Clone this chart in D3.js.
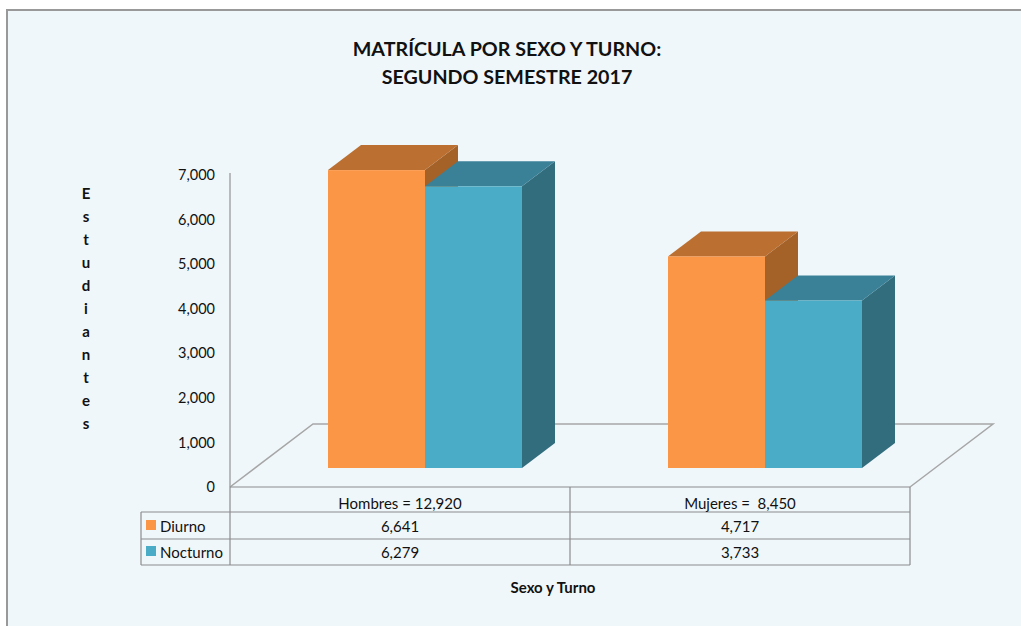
<!DOCTYPE html>
<html>
<head>
<meta charset="utf-8">
<script src="https://cdn.jsdelivr.net/npm/d3@7"></script>
<style>
html, body { margin: 0; padding: 0; background: #fff; overflow: hidden; }
text { font-family: Lato, "Open Sans", sans-serif; fill: #111; }
</style>
</head>
<body>
<svg class="chart"></svg>
<script>
const titleLines = ["MATRÍCULA POR SEXO Y TURNO:", "SEGUNDO SEMESTRE 2017"];
const yTitle = "Estudiantes";
const xTitle = "Sexo y Turno";
const categories = ["Hombres = 12,920", "Mujeres =  8,450"];
const series = ["Diurno", "Nocturno"];
const diurno = [6641, 4717];
const nocturno = [6279, 3733];
const yTicks = [0, 1000, 2000, 3000, 4000, 5000, 6000, 7000];

const canvas = {width: 1021, height: 626};
const depth = {x: 33, y: 25};
const floorY = 487;
const barLift = 19;   // the bars stand a bit behind the front edge of the floor

const colors = {
    Diurno: {front: "#fb9646", top: "#bb6f30", side: "#a46229"},
    Nocturno: {front: "#4aacc6", top: "#3a8198", side: "#326d7e"}
};

const svg = d3.select(".chart")
    .attr("width", canvas.width)
    .attr("height", canvas.height);

// chart frame
svg.append("rect")
    .attr("x", 7).attr("y", 10)
    .attr("width", 1030).attr("height", 640)
    .attr("fill", "#f0f7fa")
    .attr("stroke", "#999")
    .attr("stroke-width", 2);

svg.selectAll(".title")
    .data(titleLines)
    .enter().append("text")
    .attr("class", "title")
    .attr("x", 507)
    .attr("y", (d, i) => 56 + i * 27.5)
    .attr("text-anchor", "middle")
    .style("font-size", "19.7px")
    .style("font-weight", "bold")
    .text(d => d);

const x0 = d3.scaleBand().domain(categories).range([230, 910]);
const x1 = d3.scaleBand().domain(series).range([98, 292]);
const yScale = d3.scaleLinear().domain([0, 7000]).range([floorY, 173]);
const yLabels = d3.scaleLinear().domain([0, 7000]).range([floorY, 175]);
const yBar = v => yScale(v) - barLift;

// floor
const floor = d3.line()([
    [230, floorY],
    [230 + 83, floorY - 63],
    [993, floorY - 63],
    [910, floorY]
]);
svg.append("path")
    .attr("d", floor)
    .attr("fill", "none")
    .attr("stroke", "#a6a6a6")
    .attr("stroke-width", 1.5);

// y axis, the labels sit slightly tighter than the line
const yAxis = d3.axisLeft(yLabels)
    .tickValues(yTicks)
    .tickFormat(d3.format(","))
    .tickSize(0)
    .tickPadding(15);

const yAxisG = svg.append("g")
    .attr("transform", "translate(230,0)")
    .call(yAxis);
yAxisG.select(".domain").remove();
yAxisG.selectAll("text").style("font-size", "14.5px").attr("fill", "#111");

svg.append("line")
    .attr("x1", 230).attr("x2", 230)
    .attr("y1", yScale(0)).attr("y2", yScale(7000))
    .attr("stroke", "#a6a6a6")
    .attr("stroke-width", 1.5);

// bars, back to front so the nearer faces cover the others
const rows = [];
categories.forEach((c, i) => {
    rows.push({category: c, serie: "Diurno", value: diurno[i]});
    rows.push({category: c, serie: "Nocturno", value: nocturno[i]});
});

const bar = svg.selectAll(".bar")
    .data(rows)
    .enter().append("g")
    .attr("class", "bar");

const sideFace = function(d) {
    const l = x0(d.category) + x1(d.serie), r = l + x1.bandwidth();
    const t = yBar(d.value), b = yBar(0);
    return d3.line()([[r, t], [r + depth.x, t - depth.y], [r + depth.x, b - depth.y], [r, b]]);
};
const topFace = function(d) {
    const l = x0(d.category) + x1(d.serie), r = l + x1.bandwidth();
    const t = yBar(d.value);
    return d3.line()([[l, t], [l + depth.x, t - depth.y], [r + depth.x, t - depth.y], [r, t]]);
};

bar.append("path").attr("d", sideFace).attr("fill", d => colors[d.serie].side);
bar.append("path").attr("d", topFace).attr("fill", d => colors[d.serie].top);
bar.append("rect")
    .attr("x", d => x0(d.category) + x1(d.serie))
    .attr("y", d => yBar(d.value))
    .attr("width", x1.bandwidth())
    .attr("height", d => yBar(0) - yBar(d.value))
    .attr("fill", d => colors[d.serie].front);

// data table
const tableRows = [floorY, 512, 539, 565];
const tableLeft = 141;
const tableColor = "#8c8c8c";

svg.selectAll(".row-line")
    .data(tableRows)
    .enter().append("line")
    .attr("class", "row-line")
    .attr("x1", (d, i) => i === 0 ? 230 : tableLeft)
    .attr("x2", 910)
    .attr("y1", d => d)
    .attr("y2", d => d)
    .attr("stroke", tableColor)
    .attr("stroke-width", 1.2);

const colLines = [tableLeft, 230].concat(categories.map(c => x0(c) + x0.bandwidth()));
svg.selectAll(".col-line")
    .data(colLines)
    .enter().append("line")
    .attr("class", "col-line")
    .attr("x1", d => d)
    .attr("x2", d => d)
    .attr("y1", d => d === tableLeft ? 512 : floorY)
    .attr("y2", 565)
    .attr("stroke", tableColor)
    .attr("stroke-width", 1.2);

svg.selectAll(".cat-label")
    .data(categories)
    .enter().append("text")
    .attr("class", "cat-label")
    .attr("x", d => x0(d) + x0.bandwidth() / 2)
    .attr("y", 509)
    .attr("text-anchor", "middle")
    .style("font-size", "15px")
    .style("white-space", "pre")
    .text(d => d);

[diurno, nocturno].forEach((values, r) => {
    const rowY = 532 + r * 26;

    svg.append("rect")
        .attr("x", 146).attr("y", rowY - 12)
        .attr("width", 10).attr("height", 10)
        .attr("fill", colors[series[r]].front);

    svg.append("text")
        .attr("x", 160).attr("y", rowY)
        .style("font-size", "15px")
        .text(series[r]);

    svg.selectAll(".val-" + r)
        .data(values)
        .enter().append("text")
        .attr("class", "val-" + r)
        .attr("x", (d, i) => x0(categories[i]) + x0.bandwidth() / 2)
        .attr("y", rowY)
        .attr("text-anchor", "middle")
        .style("font-size", "15px")
        .text(d3.format(","));
});

// axis titles
svg.selectAll(".y-letter")
    .data(yTitle.split(""))
    .enter().append("text")
    .attr("class", "y-letter")
    .attr("x", 86)
    .attr("y", (d, i) => 199 + i * 23)
    .attr("text-anchor", "middle")
    .style("font-size", "15px")
    .style("font-weight", "bold")
    .text(d => d);

svg.append("text")
    .attr("x", 553)
    .attr("y", 593)
    .attr("text-anchor", "middle")
    .style("font-size", "15px")
    .style("font-weight", "bold")
    .text(xTitle);
</script>
</body>
</html>
